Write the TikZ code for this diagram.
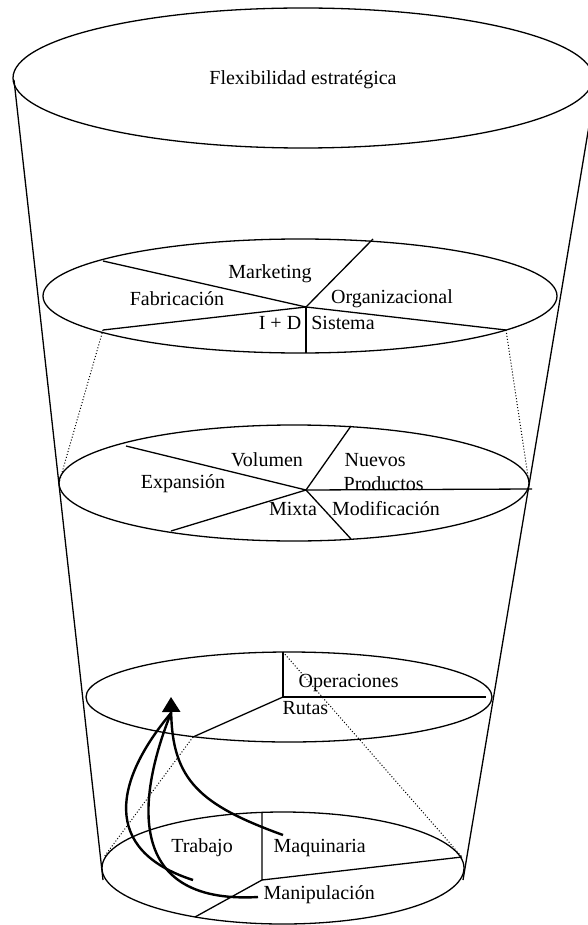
\documentclass[tikz,border=0pt]{standalone}
\usepackage{fontspec}
\setmainfont{Liberation Serif}
\usetikzlibrary{arrows.meta}
\begin{document}
\begin{tikzpicture}[
                x=1pt, y=-1pt,
                line width=1.3pt,
                lbl/.style={inner sep=0pt, font=\fontsize{20}{24}\selectfont},
                guide/.style={dotted, line width=1pt},
                flow/.style={line width=2.4pt},
                >={Triangle[length=15pt,width=18pt]}
                ]
                \useasboundingbox (0,0) rectangle (587,925);

                % cono
                \node [coordinate] (coneLT) at (14,80) {};
                \node [coordinate] (coneLB) at (103,880) {};
                \node [coordinate] (coneRT) at (595,90) {};
                \node [coordinate] (coneRB) at (463,880) {};
                \draw (coneLT) -- (coneLB);
                \draw (coneRT) -- (coneRB);

                % nivel estrategico
                \draw (303,78) ellipse [x radius=290pt, y radius=70pt];
                \node [lbl] (flex) at (303,80) {Flexibilidad estratégica};

                % nivel funcional
                \draw (300,296) ellipse [x radius=257pt, y radius=57pt];
                \node [coordinate] (hubA) at (306,307) {};
                \node [coordinate] (aUL) at (103,261) {};
                \node [coordinate] (aLL) at (103,330) {};
                \node [coordinate] (aUR) at (373,239) {};
                \node [coordinate] (aLR) at (506,330) {};
                \node [coordinate] (aB) at (306,353) {};
                \draw (aUL) -- (hubA) -- (aUR);
                \draw (aLL) -- (hubA) -- (aLR);
                \draw (hubA) -- (aB);
                \node [lbl] (mkt) at (270,274) {Marketing};
                \node [lbl] (fab) at (177,299) {Fabricación};
                \node [lbl] (org) at (392,299) {Organizacional};
                \node [lbl] (iyd) at (280,323) {I + D};
                \node [lbl] (sis) at (343,323) {Sistema};

                % nivel de fabricacion
                \draw (294,483) ellipse [x radius=235pt, y radius=58pt];
                \node [coordinate] (hubB) at (306,490) {};
                \node [coordinate] (bUL) at (126,446) {};
                \node [coordinate] (bLL) at (171,531) {};
                \node [coordinate] (bUR) at (351,426) {};
                \node [coordinate] (bR) at (532,489) {};
                \node [coordinate] (bLR) at (351,539) {};
                \draw (bUL) -- (hubB) -- (bUR);
                \draw (bLL) -- (hubB) -- (bR);
                \draw (hubB) -- (bLR);
                \node [lbl] (vol) at (267,460) {Volumen};
                \node [lbl, anchor=west] (nue) at (344,460) {Nuevos};
                \node [lbl, anchor=west] (pro) at (343,484) {Productos};
                \node [lbl] (exp) at (183,484) {Expansión};
                \node [lbl] (mix) at (293,509) {Mixta};
                \node [lbl] (mod) at (386,509) {Modificación};
                \draw [guide] (aLL) -- (290-231,483);
                \draw [guide] (aLR) -- (529,483);

                % nivel de sistema
                \draw (289,697) ellipse [x radius=203pt, y radius=45pt];
                \node [coordinate] (hubC) at (283,697) {};
                \node [coordinate] (cT) at (283,652) {};
                \node [coordinate] (cR) at (486,697) {};
                \node [coordinate] (cLL) at (193,737) {};
                \draw (cT) -- (hubC) -- (cR);
                \draw (hubC) -- (cLL);
                \node [lbl, anchor=west] (ope) at (298,683) {Operaciones};
                \node [lbl, anchor=west] (rut) at (282,708) {Rutas};

                % nivel basico
                \draw (283,868) ellipse [x radius=181pt, y radius=56pt];
                \node [coordinate] (hubD) at (262,880) {};
                \node [coordinate] (dT) at (262,812) {};
                \node [coordinate] (dR) at (462,857) {};
                \node [coordinate] (dLL) at (195,917) {};
                \draw (dT) -- (hubD) -- (dR);
                \draw (hubD) -- (dLL);
                \node [lbl] (tra) at (202,848) {Trabajo};
                \node [lbl, anchor=west] (maq) at (273,848) {Maquinaria};
                \node [lbl, anchor=west] (man) at (263,895) {Manipulación};
                \draw [guide] (cT) -- (dR);
                \draw [guide] (cLL) -- (104,857);

                % flechas
                \node [coordinate] (tip) at (171,697) {};
                \node [coordinate] (base) at (171,713) {};
                \node [coordinate] (fromMaq) at (283,835) {};
                \node [coordinate] (fromTra) at (193,880) {};
                \node [coordinate] (fromMan) at (258,897) {};
                \draw [flow,->] (fromMaq) .. controls (200,805) and (172,780) .. (tip);
                \draw [flow] (fromTra) .. controls (100,850) and (115,780) .. (base);
                \draw [flow] (fromMan) .. controls (120,905) and (140,790) .. (base);
\end{tikzpicture}
\end{document}
